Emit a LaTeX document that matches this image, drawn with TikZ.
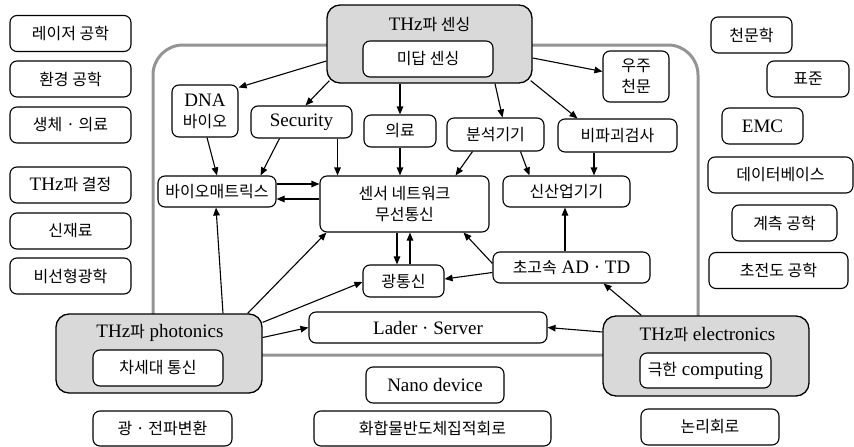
\documentclass[tikz,border=0pt]{standalone}
\usepackage{fontspec}
\setmainfont{Liberation Serif}
\newfontfamily\kr{Noto Sans CJK KR}
\usetikzlibrary{arrows.meta,calc,backgrounds}
\newcommand\K[1]{{\kr\fontsize{16}{21}\selectfont #1}}
\begin{document}
\begin{tikzpicture}[x=1pt,y=-1pt,
 bx/.style={draw=black, line width=1.1pt, rounded corners=7pt, fill=white, inner sep=0pt, align=center, font=\fontsize{19}{21}\selectfont},
 kbx/.style={bx, font=\kr\fontsize{16}{21}\selectfont},
 gbox/.style={draw=black, line width=1.3pt, rounded corners=13pt, fill=black!15, inner sep=0pt},
 ttl/.style={inner sep=0pt, font=\fontsize{19}{21}\selectfont},
 arr/.style={line width=1.1pt, -{Triangle[length=8pt,width=6.5pt]}},
 grayframe/.style={draw=black!42, line width=3pt, rounded corners=30pt}
]
\useasboundingbox (0,0) rectangle (854,447);

% left column
\node[kbx, minimum width=121pt, minimum height=36pt] (laser) at (70.5,33.5) {레이저 공학};
\node[kbx, minimum width=121pt, minimum height=36pt] (env) at (70.5,79) {환경 공학};
\node[kbx, minimum width=121pt, minimum height=36pt] (biomed) at (70.5,125) {생체 · 의료};
\node[bx, minimum width=121pt, minimum height=36pt] (crystal) at (70.5,185) {THz\K{파 결정}};
\node[kbx, minimum width=121pt, minimum height=36pt] (newmat) at (70.5,231) {신재료};
\node[kbx, minimum width=121pt, minimum height=36pt] (nonlin) at (70.5,276) {비선형광학};

% right column
\node[kbx, minimum width=81pt, minimum height=36pt] (astro) at (751.5,35) {천문학};
\node[kbx, minimum width=82pt, minimum height=36pt] (std) at (808,79) {표준};
\node[bx, minimum width=81pt, minimum height=36pt] (emc) at (762.5,126) {EMC};
\node[kbx, minimum width=145pt, minimum height=36pt] (db) at (780.5,175) {데이터베이스};
\node[kbx, minimum width=105pt, minimum height=36pt] (meas) at (784.5,223) {계측 공학};
\node[kbx, minimum width=139pt, minimum height=36pt] (supcon) at (778.5,270.5) {초전도 공학};

% THz sensing
\node[gbox, minimum width=205pt, minimum height=78pt] (sens) at (429.5,44) {};
\node[ttl] (senst) at (429.5,25) {THz\K{파 센싱}};
\node[kbx, minimum width=130pt, minimum height=36pt] (midap) at (428,59) {미답 센싱};

% inner nodes
\node[bx, minimum width=66pt, minimum height=52pt] (dna) at (205,111) {DNA\\\K{바이오}};
\node[bx, minimum width=101pt, minimum height=32pt] (sec) at (301.5,122) {Security};
\node[kbx, minimum width=72pt, minimum height=32pt] (med) at (400,131) {의료};
\node[kbx, minimum width=97pt, minimum height=33pt] (anal) at (495.5,134.5) {분석기기};
\node[kbx, minimum width=119pt, minimum height=33pt] (ndt) at (617.5,135.5) {비파괴검사};
\node[kbx, minimum width=66pt, minimum height=51pt] (space) at (636,76.5) {우주\\천문};
\node[kbx, minimum width=118pt, minimum height=31pt] (biom) at (217,191.5) {바이오매트릭스};
\node[kbx, minimum width=169pt, minimum height=56pt] (sensor) at (404.5,204) {센서 네트워크\\무선통신};
\node[kbx, minimum width=127pt, minimum height=31pt] (newind) at (566.5,191.5) {신산업기기};
\node[kbx, minimum width=81pt, minimum height=32pt] (optcom) at (403.5,281) {광통신};
\node[bx, minimum width=157pt, minimum height=31pt] (adtd) at (571.5,267.5) {\K{초고속} AD · TD};
\node[bx, minimum width=238pt, minimum height=31pt] (lader) at (428,327.5) {Lader · Server};

% photonics
\node[gbox, minimum width=206pt, minimum height=79pt] (phot) at (159,353.5) {};
\node[ttl] (phott) at (160,333) {THz\K{파} photonics};
\node[kbx, minimum width=130pt, minimum height=36pt] (nextgen) at (158,368) {차세대 통신};

% electronics
\node[gbox, minimum width=206pt, minimum height=80pt] (elec) at (706,356) {};
\node[ttl] (elect) at (707.5,335) {THz\K{파} electronics};
\node[bx, minimum width=131pt, minimum height=35pt] (extreme) at (705.5,370.5) {\K{극한} computing};

% bottom
\node[kbx, minimum width=139pt, minimum height=35pt] (conv) at (162.5,428.5) {광 · 전파변환};
\node[bx, minimum width=138pt, minimum height=36pt] (nano) at (435,385) {Nano device};
\node[kbx, minimum width=237pt, minimum height=35pt] (mmic) at (432.5,428.5) {화합물반도체집적회로};
\node[kbx, minimum width=138pt, minimum height=36pt] (logic) at (710,427) {논리회로};

\coordinate (c1) at ($(sec.south east)+(-15,0)$);
\coordinate (c2) at ($(ndt.south)+(-23.5,0)$);
\coordinate (c3) at ($(biom.east)+(0,-7.5)$);
\coordinate (c4) at ($(biom.east)+(0,7.5)$);
\coordinate (c5) at ($(optcom.north)+(-6.5,0)$);
\coordinate (c6) at ($(optcom.north)+(6.5,0)$);
\coordinate (c7) at ($(adtd.north)+(-6.5,0)$);

\begin{scope}[on background layer]
\draw[grayframe] (153,45) rectangle (698,355);
% from sensing
\draw[arr] ($(sens.west)+(0,17)$) -- ($(dna.north east)+(0,3)$);
\draw[arr] ($(sens.south west)+(3,-3)$) -- ($(sec.north)+(4,0)$);
\draw[arr] (med |- sens.south) -- (med.north);
\draw[arr] ($(sens.south)+(65.5,0)$) -- ($(anal.north)+(7,0)$);
\draw[arr] ($(sens.south east)+(-2,-3)$) -- ($(ndt.north)+(-40,0)$);
\draw[arr] ($(sens.east)+(0,14)$) -- ($(space.west)+(0,-5)$);
% second level
\draw[arr] ($(dna.south)+(2,0)$) -- (biom.north);
\draw[arr] ($(sec.south)+(-22,0)$) -- ($(biom.north east)+(-16,0)$);
\draw[arr] (c1) -- (c1 |- sensor.north);
\draw[arr] (med.south) -- (med.south |- sensor.north);
\draw[arr] ($(anal.south)+(-23,0)$) -- ($(sensor.north east)+(-34,0)$);
\draw[arr] ($(anal.south)+(25,0)$) -- ($(newind.north west)+(27,0)$);
\draw[arr] (c2) -- (c2 |- newind.north);
% middle
\draw[arr] (c3) -- (c3 -| sensor.west);
\draw[arr] (c4 -| sensor.west) -- (c4);
\draw[arr] (c5 |- sensor.south) -- (c5);
\draw[arr] (c6) -- (c6 |- sensor.south);
\draw[arr] ($(adtd.west)+(0,-4)$) -- ($(sensor.south east)+(-26,0)$);
\draw[arr] ($(adtd.west)+(0,5)$) -- ($(optcom.east)+(0,-2)$);
\draw[arr] (c7) -- (c7 |- newind.south);
% photonics
\draw[arr] ($(phot.north)+(64,0)$) -- ($(biom.south)+(-1,0)$);
\draw[arr] ($(phot.north east)+(-15,0)$) -- ($(sensor.south west)+(7,0)$);
\draw[arr] ($(phot.north east)+(0,9)$) -- ($(optcom.west)+(0,1)$);
\draw[arr] ($(phot.east)+(0,-16)$) -- (lader.west);
% electronics
\draw[arr] ($(elec.west)+(0,-24)$) -- (lader.east);
\draw[arr] ($(elec.north west)+(39,0)$) -- ($(adtd.south east)+(-47,0)$);
\end{scope}
\end{tikzpicture}
\end{document}
